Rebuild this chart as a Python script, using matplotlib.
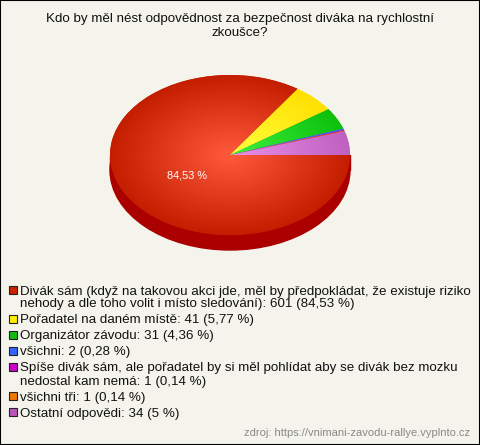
import numpy as np
import matplotlib
matplotlib.use("Agg")
from matplotlib import pyplot as plt
from matplotlib.patches import Rectangle, Ellipse
from matplotlib.colors import to_rgb

plt.rcParams['font.family'] = ['Liberation Sans', 'DejaVu Sans']

title = "Kdo by měl nést odpovědnost za bezpečnost diváka na rychlostní\nzkoušce?"
labels = [
    "Divák sám (když na takovou akci jde, měl by předpokládat, že existuje riziko\nnehody a dle toho volit i místo sledování)",
    "Pořadatel na daném místě",
    "Organizátor závodu",
    "všichni",
    "Spíše divák sám, ale pořadatel by si měl pohlídat aby se divák bez mozku\nnedostal kam nemá",
    "všichni tři",
    "Ostatní odpovědi",
]
counts = [601, 41, 31, 2, 1, 1, 34]
percent_text = ["84,53 %", "5,77 %", "4,36 %", "0,28 %", "0,14 %", "0,14 %", "5 %"]
colors = ["#cc2200", "#ffee00", "#11bb11", "#3366ff", "#cc00cc", "#ee7700", "#bb55bb"]
inner_colors = ["#ff5a3c", "#ffff40", "#40f040", "#6688ff", "#ee44ee", "#ff9933", "#e890e8"]
outer_colors = ["#c41e00", "#ffe000", "#0cc00c", "#4466ee", "#bb00bb", "#dd6600", "#c060c0"]
source = "zdroj: https://vnimani-zavodu-rallye.vyplnto.cz"

W, H = 480, 445
bg = "#f5f4ec"
fig = plt.figure(figsize=(W / 100, H / 100), dpi=100, facecolor=bg)

# background axes in pixel coords
ax = fig.add_axes([0, 0, 1, 1])
ax.set_xlim(0, W)
ax.set_ylim(H, 0)
ax.axis("off")

ax.text(240, 26, title, ha="center", va="center", fontsize=9.6, color="#111111",
        linespacing=1.2)

# pie area: ellipse box in pixels
cx, cy, rx, ry, depth = 230, 155, 120, 80, 15
pax = fig.add_axes([(cx - rx) / W, 1 - (cy + ry) / H, 2 * rx / W, 2 * ry / H])
pax.set_xlim(-1, 1)
pax.set_ylim(-1, 1)
pax.axis("off")

d = depth / ry
side = "#aa0000"
pax.add_patch(Ellipse((0, -d), 2, 2, color=side, clip_on=False, zorder=1))
pax.add_patch(Rectangle((-1, -d), 2, d, color=side, clip_on=False, zorder=1))

wedges, _ = pax.pie(counts, colors=colors, startangle=0, counterclock=False,
                    radius=1, wedgeprops=dict(linewidth=0, zorder=2))
pax.set_aspect("auto")
pax.set_xlim(-1, 1)
pax.set_ylim(-1, 1)

gx, gy = np.meshgrid(np.linspace(-1, 1, 300), np.linspace(-1, 1, 300))
rr = np.clip(np.sqrt(gx ** 2 + gy ** 2), 0, 1)[..., None]
for w, ci, co in zip(wedges, inner_colors, outer_colors):
    img = np.array(to_rgb(ci)) * (1 - rr) + np.array(to_rgb(co)) * rr
    im = pax.imshow(img, extent=(-1, 1, -1, 1), origin="lower", zorder=3,
                    aspect="auto", interpolation="bilinear")
    im.set_clip_path(w)

pax.text(-0.36, -0.25, percent_text[0], color="white", fontsize=7.8,
         ha="center", va="center", zorder=5)

# legend: marker centre of each entry, further lines 13 px lower
rows = [290, 319, 335, 351, 367, 396, 412]
for lab, n, p, c, y in zip(labels, counts, percent_text, colors, rows):
    ax.add_patch(Rectangle((9, y - 4), 8, 8, facecolor=c, edgecolor="#222222",
                           linewidth=0.8))
    lines = f"{lab}: {n} ({p})".split("\n")
    for i, line in enumerate(lines):
        ax.text(20.5, y + 4.5 + 13 * i, line, ha="left", va="baseline",
                fontsize=9.6, color="#111111")

ax.text(470, 433, source, ha="right", va="center", fontsize=8, color="#888888")

fig.add_artist(Rectangle((0, 0), 1, 1, transform=fig.transFigure, fill=False,
                         edgecolor="black", linewidth=1.5))

fig.savefig("out.png", dpi=100, facecolor=bg)
